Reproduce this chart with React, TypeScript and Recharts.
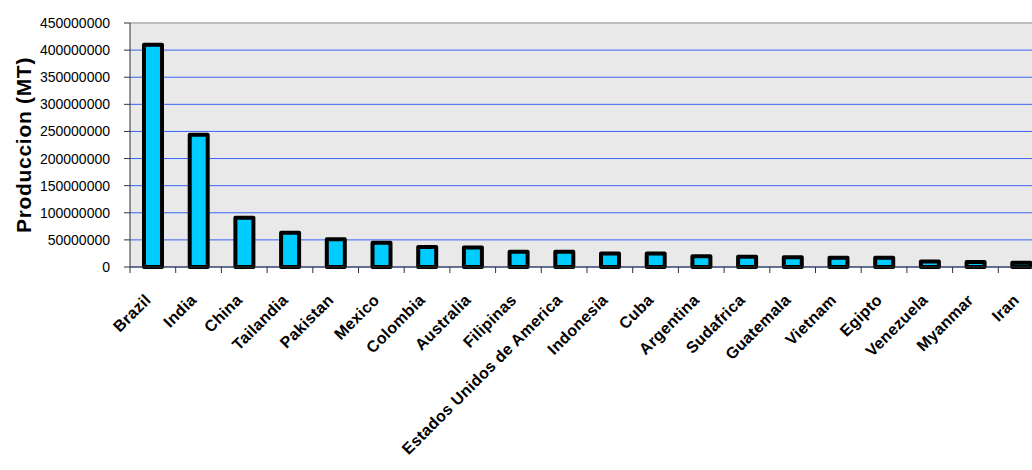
import { BarChart, Bar, XAxis, YAxis, CartesianGrid, ReferenceLine } from "recharts"

const countries = [
  "Brazil", "India", "China", "Tailandia", "Pakistan", "Mexico", "Colombia", "Australia",
  "Filipinas", "Estados Unidos de America", "Indonesia", "Cuba", "Argentina", "Sudafrica",
  "Guatemala", "Vietnam", "Egipto", "Venezuela", "Myanmar", "Iran",
]

const production = [
  410000000, 244000000, 91000000, 63000000, 51000000, 44500000, 37000000, 36000000,
  28000000, 28000000, 25000000, 25000000, 20000000, 19000000, 18000000, 17000000,
  17000000, 10000000, 9000000, 8000000,
]

const yTicks = [0, 50000000, 100000000, 150000000, 200000000, 250000000, 300000000, 350000000, 400000000, 450000000]

const data = countries.map((name, i) => ({ name, value: production[i] }))

const CHART_W = 1060
const Y_AXIS_W = 130
const RIGHT = 16
const STEP = (CHART_W - Y_AXIS_W - RIGHT) / countries.length
const FONT = "'Liberation Sans', Arial, sans-serif"

const XTick = (props: any) => {
  const { x, y, payload } = props
  const lx = x - STEP / 2
  const tx = x - 1
  const ty = y + 34
  return (
    <g>
      <line x1={lx} x2={lx} y1={y} y2={y + 6} stroke="#333" strokeWidth={1} />
      <text
        x={tx}
        y={ty}
        textAnchor="end"
        transform={`rotate(-45, ${tx}, ${ty})`}
        fontFamily={FONT}
        fontWeight="bold"
        fontSize={16}
        letterSpacing={0.3}
        fill="#000"
      >
        {payload.value}
      </text>
    </g>
  )
}

const YLabel = (props: any) => {
  const { viewBox } = props
  const cx = 23
  const cy = viewBox.y + viewBox.height / 2
  return (
    <text
      x={cx}
      y={cy}
      textAnchor="middle"
      dominantBaseline="central"
      transform={`rotate(-90, ${cx}, ${cy})`}
      fontFamily={FONT}
      fontWeight="bold"
      fontSize={21}
      letterSpacing={0.7}
      fill="#000"
    >
      Produccion (MT)
    </text>
  )
}

export default function App() {
  return (
    <div style={{ position: "absolute", left: 0, top: 0, width: 1032, height: 470, overflow: "hidden", background: "#fff" }}>
      <BarChart
        width={CHART_W}
        height={470}
        data={data}
        margin={{ top: 23, right: RIGHT, bottom: 0, left: 0 }}
      >
        <CartesianGrid vertical={false} stroke="#3b63f5" strokeWidth={1} fill="#e9e9e9" fillOpacity={1} />
        <XAxis
          dataKey="name"
          interval={0}
          height={203}
          tickSize={0}
          tickMargin={0}
          tick={<XTick />}
          axisLine={{ stroke: "#333", strokeWidth: 1 }}
        />
        <YAxis
          width={Y_AXIS_W}
          domain={[0, 450000000]}
          ticks={yTicks}
          interval={0}
          tickSize={6}
          tickMargin={14}
          tickFormatter={(v) => String(v)}
          tick={{ fill: "#000", fontSize: 14, fontFamily: FONT }}
          tickLine={{ stroke: "#333" }}
          axisLine={{ stroke: "#333", strokeWidth: 1 }}
          label={<YLabel />}
        />
        <ReferenceLine y={450000000} stroke="#bdbdbd" strokeWidth={2} />
        <Bar
          dataKey="value"
          barSize={18}
          fill="#00ccff"
          stroke="#000"
          strokeWidth={4}
          strokeLinejoin="round"
          isAnimationActive={false}
        />
      </BarChart>
    </div>
  )
}
